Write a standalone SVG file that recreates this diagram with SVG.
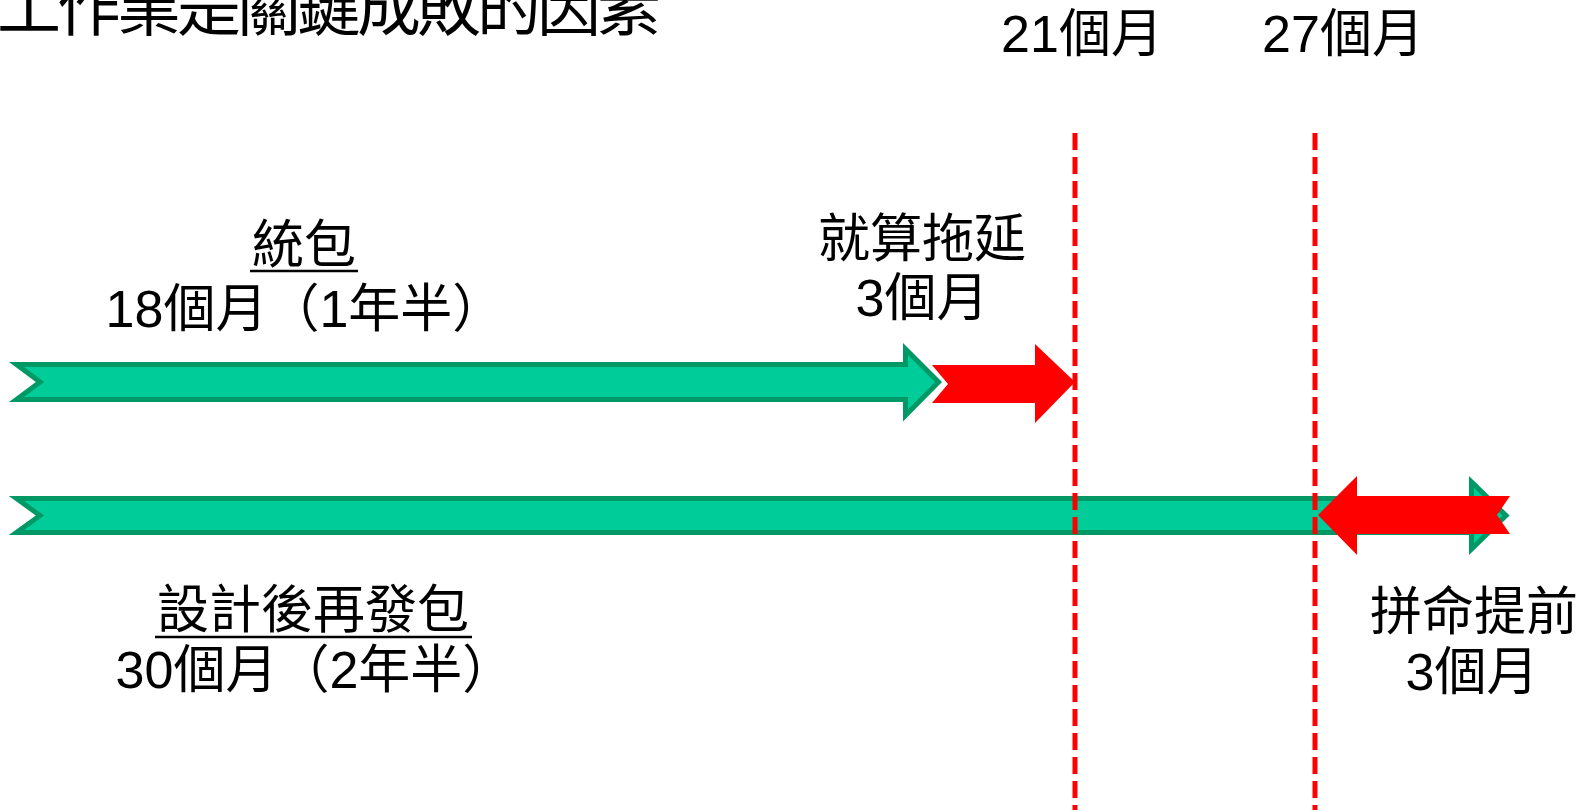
<svg xmlns="http://www.w3.org/2000/svg" width="1593" height="812" viewBox="0 0 1593 812">
  <style>
    .t { font-family: "Liberation Sans", "Noto Sans CJK TC", sans-serif; font-size: 52px; fill: #000; }
    .title { font-family: "Noto Sans CJK TC", sans-serif; font-size: 64px; letter-spacing: -4px; fill: #000; }
    .mid { text-anchor: middle; }
    .green { fill: #00CC99; stroke: #009966; stroke-width: 5; stroke-linejoin: miter; }
    .red { fill: #FF0000; }
    .guide { stroke: #FF0000; stroke-width: 5; stroke-dasharray: 17 7; fill: none; }
    .ul { stroke: #000; stroke-width: 2.5; }
  </style>
  <rect width="1593" height="812" fill="#FFFFFF"/>

  <g id="title">
    <text class="title" x="-63" y="30">施工作業是關鍵成敗的因素</text>
  </g>

  <g id="turnkey-bar">
    <path class="green" d="M16.5,364.5 L905.5,364.5 L905.5,349 L938.5,382 L905.5,415.5 L905.5,399.5 L16.5,399.5 L40,382 Z"/>
  </g>

  <g id="dbb-bar">
    <path class="green" d="M16.5,498.5 L1471.5,498.5 L1471.5,482 L1506,515.5 L1471.5,549 L1471.5,532.5 L16.5,532.5 L40,515.5 Z"/>
  </g>

  <g id="delay-arrow">
    <path class="red" d="M932,365 L1035,365 L1035,344 L1075,382 L1035,423 L1035,403 L932,403 L948,384 Z"/>
  </g>

  <g id="advance-arrow">
    <path class="red" d="M1510,496 L1357,496 L1357,476 L1318,515 L1357,555 L1357,534 L1510,534 L1497,515 Z"/>
  </g>

  <g id="connectors">
    <line class="guide" x1="1075" y1="133" x2="1075" y2="810"/>
    <line class="guide" x1="1315" y1="133" x2="1315" y2="810"/>
  </g>

  <g id="label-21">
    <text class="t mid" x="1082" y="52">21個月</text>
  </g>
  <g id="label-27">
    <text class="t mid" x="1343" y="52">27個月</text>
  </g>

  <g id="label-turnkey">
    <text class="t mid" x="304" y="263">統包</text>
    <line class="ul" x1="250" y1="271" x2="358" y2="271"/>
    <text class="t mid" x="305" y="327">18個月（1年半）</text>
  </g>

  <g id="label-delay">
    <text class="t mid" x="922" y="257">就算拖延</text>
    <text class="t mid" x="922" y="316">3個月</text>
  </g>

  <g id="label-dbb">
    <text class="t mid" x="313" y="628">設計後再發包</text>
    <line class="ul" x1="155" y1="637" x2="472" y2="637"/>
    <text class="t mid" x="315" y="688">30個月（2年半）</text>
  </g>

  <g id="label-advance">
    <text class="t mid" x="1474" y="630">拼命提前</text>
    <text class="t mid" x="1472" y="690">3個月</text>
  </g>
</svg>
